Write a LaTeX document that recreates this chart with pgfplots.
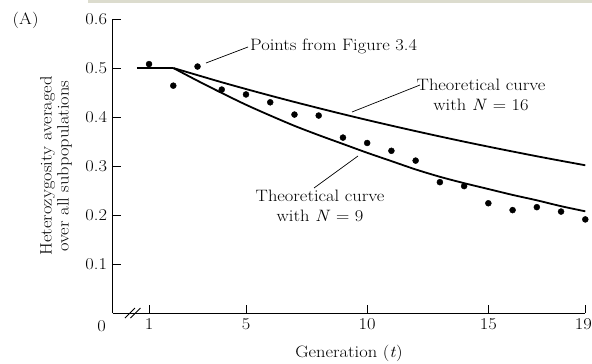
\documentclass[border=0pt]{standalone}
\usepackage{fontspec}
\setmainfont{Latin Modern Roman}[FakeStretch=1.12]
\usepackage{pgfplots}
\pgfplotsset{compat=1.18}
\definecolor{band}{HTML}{DCDCCE}
\begin{document}
\fontsize{16.5}{19}\selectfont
\begin{tikzpicture}
\useasboundingbox (0pt,0pt) rectangle (592pt,-364pt);
\fill[band] (88pt,0pt) rectangle (592pt,-3pt);
\begin{axis}[
  at={(112.7pt,-313pt)}, anchor=south west,
  scale only axis, width=472.6pt, height=294pt,
  xmin=-0.5, xmax=19, ymin=0, ymax=0.6,
  axis x line=bottom, axis y line=left,
  axis line style={-, line width=0.9pt},
  tick align=inside, major tick length=8pt,
  tick style={line width=0.9pt, black},
  xtick={1,5,10,15,19}, xticklabels={1,5,10,15,\hspace*{-4pt}19},
  ytick={0.1,0.2,0.3,0.4,0.5,0.6},
  yticklabels={0.1,0.2,0.3,0.4,0.5,0.6},
  /pgf/number format/assume math mode=true,
  xlabel={Generation (\textit{t})},
  xlabel style={at={(axis description cs:0.5,-0.136)}, anchor=center},
  ylabel={Heterozygosity averaged\\over all subpopulations},
  ylabel style={at={(axis description cs:-0.12,0.5)}, anchor=center, align=center, font=\fontsize{16.5}{17}\selectfont},
  clip=false,
]
\addplot[black, line width=1.8pt, no marks] coordinates {(0.5,0.5) (2,0.5)};
\addplot[black, line width=1.8pt, no marks, smooth] coordinates {
(2,0.5) (3,0.4854) (4,0.4709) (5,0.4571) (6,0.4437) (7,0.4307) (8,0.4181) (9,0.4058) (10,0.3939) (11,0.3824) (12,0.3712) (13,0.3603) (14,0.3497) (15,0.3395) (16,0.3296) (17,0.3199) (18,0.3106) (19,0.3015)
};
\addplot[black, line width=1.8pt, no marks, smooth] coordinates {
(2,0.5) (3,0.474) (4,0.449) (5,0.425) (6,0.403) (7,0.382) (8,0.363) (9,0.345) (10,0.327) (11,0.310) (12,0.293) (13,0.278) (14,0.265) (15,0.253) (16,0.241) (17,0.230) (18,0.218) (19,0.2075)
};
\addplot[only marks, mark=*, mark size=3pt, black] coordinates {
(1,0.508) (2,0.464) (3,0.503) (4,0.456) (5,0.446) (6,0.430) (7,0.405) (8,0.403) (9,0.358) (10,0.347) (11,0.331) (12,0.311) (13,0.267) (14,0.259) (15,0.224) (16,0.210) (17,0.216) (18,0.207) (19,0.191)
};
\end{axis}
\node[anchor=west] at (7pt,-20pt) {(A)};
\node at (101.7pt,-325.7pt) {0};
\draw[line width=0.8pt] (125pt,-318pt) -- (135pt,-308pt);
\draw[line width=0.8pt] (130.5pt,-318pt) -- (140.5pt,-308pt);
\node[anchor=west, inner sep=0pt] at (250pt,-46pt) {Points from Figure 3.4};
\draw[line width=0.7pt] (206pt,-63pt) -- (248pt,-47pt);
\node[align=center, font=\fontsize{16.5}{20}\selectfont] at (481pt,-95pt) {Theoretical curve\\with \textit{N} = 16};
\draw[line width=0.7pt] (352pt,-112pt) -- (420pt,-85pt);
\node[align=center, font=\fontsize{16.5}{20}\selectfont] at (320pt,-206pt) {Theoretical curve\\with \textit{N} = 9};
\draw[line width=0.7pt] (314pt,-188pt) -- (358pt,-156pt);
\end{tikzpicture}
\end{document}
